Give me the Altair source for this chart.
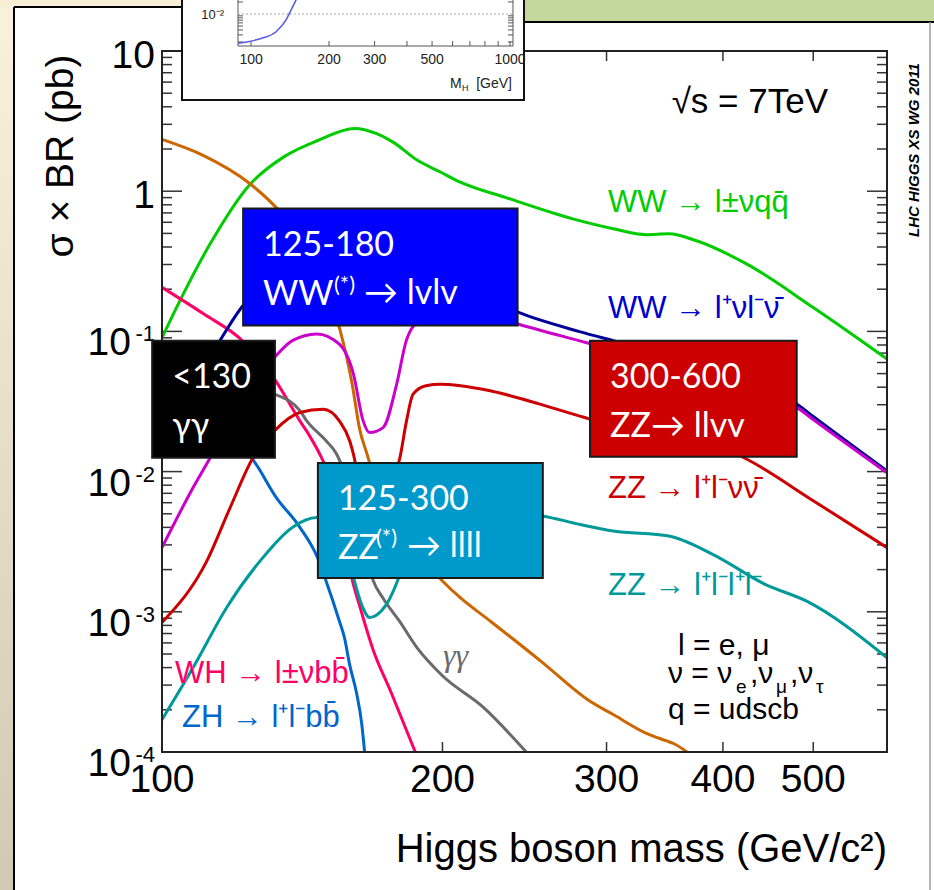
import altair as alt
import pandas as pd

# ---------------- data (Higgs mass in GeV, sigma x BR in pb) ----------------
green_m = [100, 104.5, 112.6, 124, 135, 147, 161, 170, 177, 188, 199, 209, 234, 276, 305, 331, 350, 374, 424, 500, 600]
green_v = [0.09, 0.165, 0.42, 1.1, 1.75, 2.3, 2.8, 2.57, 2.24, 1.66, 1.37, 1.16, 0.9, 0.635, 0.54, 0.49, 0.497, 0.445, 0.303, 0.148, 0.0635]

orange_m = [100, 110.7, 124.3, 133, 140, 145, 150, 155, 160, 163, 166, 170, 175, 180, 190, 200, 209, 225, 255, 288, 305, 331, 348, 354, 366]
orange_v = [2.34, 1.8, 1.13, 0.75, 0.5, 0.33, 0.2, 0.107, 0.042, 0.02, 0.0133, 0.008, 0.0052, 0.0038, 0.0024, 0.00166, 0.00126, 8.6e-4, 4.45e-4, 2.3e-4, 1.85e-4, 1.36e-4, 1.2e-4, 1.15e-4, 1e-4]

wh_m = [100, 110.7, 122, 131.7, 140.6, 144, 147.7, 152, 156, 160, 163, 168.6, 176, 187]
wh_v = [0.206, 0.134, 0.0858, 0.047, 0.023, 0.018, 0.0133, 0.0085, 0.0045, 0.0017, 0.0011, 5.3e-4, 2.7e-4, 1e-4]

zh_m = [100, 110, 120, 125, 132.7, 140.6, 147, 150, 155, 157, 159, 161.8, 163.8, 165]
zh_v = [0.035, 0.025, 0.016, 0.0123, 0.0065, 0.004, 0.0024, 0.00166, 8.6e-4, 6.5e-4, 4.2e-4, 2.6e-4, 1.6e-4, 1e-4]

gg_m = [100, 110, 120, 127, 132, 140.6, 143, 150, 154, 160, 165, 168.6, 172.7, 180, 187.6, 200, 221, 246]
gg_v = [0.028, 0.035, 0.039, 0.038, 0.0357, 0.0272, 0.023, 0.0166, 0.0133, 0.0065, 0.0028, 0.00166, 0.00125, 8.5e-4, 5.6e-4, 3.5e-4, 2.1e-4, 1e-4]

llvv_m = [100, 111.7, 118.3, 125, 132, 140.6, 149, 155, 159, 160.5, 163, 166, 170, 173, 176, 178, 180, 183, 186, 192, 199, 209, 225, 254.5, 283, 300, 330, 360, 400, 424, 500, 600]
llvv_v = [8.4e-4, 2.3e-3, 5.5e-3, 0.0123, 0.0195, 0.0264, 0.0279, 0.023, 0.0166, 0.0133, 0.008, 0.0055, 0.0042, 0.0045, 0.007, 0.0095, 0.0125, 0.023, 0.0357, 0.041, 0.042, 0.041, 0.0377, 0.0303, 0.0245, 0.022, 0.02, 0.0185, 0.0148, 0.0123, 6.2e-3, 2.87e-3]

mag_m = [100, 108, 112.6, 120, 126, 132, 138, 146.6, 155, 160.5, 164.4, 167, 172.7, 178.6, 183, 190, 200, 210, 225, 241, 285, 300, 350, 400, 450, 480, 500, 600]
mag_v = [2.87e-3, 7.7e-3, 0.0125, 0.028, 0.045, 0.065, 0.086, 0.096, 0.081, 0.0496, 0.023, 0.019, 0.0206, 0.042, 0.087, 0.125, 0.145, 0.145, 0.13, 0.113, 0.0834, 0.076, 0.058, 0.045, 0.034, 0.0287, 0.0235, 9.8e-3]

lvlv_m = [100, 105, 110, 115.4, 121.7, 130, 140, 150, 160, 170, 180, 200, 220, 241, 280, 305, 350, 400, 450, 480, 500, 600]
lvlv_v = [0.02, 0.032, 0.05, 0.086, 0.148, 0.23, 0.33, 0.42, 0.47, 0.44, 0.36, 0.25, 0.18, 0.137, 0.1, 0.086, 0.068, 0.05, 0.037, 0.0303, 0.0247, 0.0101]

llll_m = [100, 108, 117.3, 127.4, 138, 146.6, 150, 155, 160.5, 164, 167, 170, 174, 179.5, 185, 190, 200, 220, 240, 256, 281, 305, 350, 390, 444, 492, 600]
llll_v = [1.7e-4, 4e-4, 1.07e-3, 2.3e-3, 4e-3, 4.7e-3, 4.7e-3, 3.8e-3, 1.75e-3, 1.1e-3, 9.1e-4, 9.5e-4, 1.12e-3, 1.75e-3, 3.3e-3, 4.8e-3, 5.6e-3, 5.5e-3, 5.1e-3, 4.83e-3, 4.2e-3, 3.77e-3, 3.47e-3, 2.57e-3, 1.57e-3, 1.19e-3, 4.7e-4]

# highlighted analysis boxes (mass range, sigma range)
box_name = ["gg", "ww", "zz4l", "zz2l2v"]
box_m_lo = [97.6, 122.2, 147.0, 288.0]
box_m_hi = [132.2, 240.8, 256.3, 480.0]
box_v_lo = [0.01253, 0.110, 0.00174, 0.01274]
box_v_hi = [0.0858, 0.752, 0.01154, 0.0858]
box_line1 = ["<130", "125-180", "125-300", "300-600"]
box_line2 = ["γγ", "WW", "ZZ", "ZZ→ llvv"]

# inset curve
inset_m = [89, 97.4, 110, 124.9, 136.5, 142.7, 149.2, 156, 165]
inset_v = [1.85e-3, 2.03e-3, 2.47e-3, 3.6e-3, 7.1e-3, 0.0126, 0.0224, 0.04, 0.08]
inset_xlabels = [100, 200, 300, 500, 1000]

x_labels = [100, 200, 300, 400, 500]
y_plain = [10, 1]
y_plain_txt = ["10", "1"]
y_pow = [0.1, 0.01, 0.001, 0.0001]
y_pow_exp = ["-1", "-2", "-3", "-4"]

# ---------------- layout ----------------
X0, Y0 = 162, 51
W, H = 725, 701
SANS = "Liberation Sans, Arial, Helvetica, sans-serif"
BOXF = "Lato, 'Open Sans', 'DejaVu Sans', sans-serif"

series = [
    ("WW→lνqq", green_m, green_v, "#00cc00"),
    ("bkg", orange_m, orange_v, "#cc6600"),
    ("WH", wh_m, wh_v, "#ff0066"),
    ("ZH", zh_m, zh_v, "#0066cc"),
    ("γγ", gg_m, gg_v, "#6a6a6a"),
    ("ZZ→llνν", llvv_m, llvv_v, "#cc0000"),
    ("WW→lνlν", lvlv_m, lvlv_v, "#000099"),
    ("magenta", mag_m, mag_v, "#cc00cc"),
    ("ZZ→4l", llll_m, llll_v, "#009999"),
]
rows = []
for name, ms, vs, _ in series:
    for m, v in zip(ms, vs):
        rows.append({"series": name, "mass": m, "xsbr": v})
df = pd.DataFrame(rows)

xs = alt.Scale(type="log", domain=[100, 600], nice=False)
ys = alt.Scale(type="log", domain=[1e-4, 10], nice=False)

one = alt.Data(values=[{"k": 1}])


def txt(s, x, y, size, color="black", font=SANS, align="left", baseline="alphabetic",
        angle=None, style=None, weight=None):
    kw = dict(text=s, fontSize=size, font=font, color=color, align=align, baseline=baseline)
    if angle is not None:
        kw["angle"] = angle
    if style:
        kw["fontStyle"] = style
    if weight:
        kw["fontWeight"] = weight
    return alt.Chart(one).mark_text(**kw).encode(x=alt.value(x - X0), y=alt.value(y - Y0))


def rect(x1, y1, x2, y2, fill, stroke=None, sw=0):
    kw = dict(fill=fill)
    if stroke:
        kw["stroke"] = stroke
        kw["strokeWidth"] = sw
    return alt.Chart(one).mark_rect(**kw).encode(
        x=alt.value(x1 - X0), x2=alt.value(x2 - X0), y=alt.value(y1 - Y0), y2=alt.value(y2 - Y0))


def rule(x1, y1, x2, y2, color="black", sw=2, dash=None):
    kw = dict(color=color, strokeWidth=sw)
    if dash:
        kw["strokeDash"] = dash
    return alt.Chart(one).mark_rule(**kw).encode(
        x=alt.value(x1 - X0), x2=alt.value(x2 - X0), y=alt.value(y1 - Y0), y2=alt.value(y2 - Y0))


layers = []
# slide decorations
beige = alt.LinearGradient(gradient="linear",
                           stops=[alt.GradientStop(color="#f8f2dc", offset=0),
                                  alt.GradientStop(color="#d2c9b3", offset=1)],
                           x1=0, x2=0, y1=0, y2=1)
layers.append(rect(0, 0, 14, 890, beige))
layers.append(rect(0, 0, 200, 7, "#f6efd6"))
layers.append(rect(500, 0, 934, 22, "#c4d79c"))
layers.append(rule(14, 7, 14, 890, "black", 2))
layers.append(rule(14, 7, 200, 7, "black", 2))
layers.append(rule(500, 22, 934, 22, "black", 2))
layers.append(rule(930, 22, 930, 890, "#9a9a9a", 1.5))

# ticks (inside, ROOT style)
y_major = [1e-4, 1e-3, 1e-2, 1e-1, 1, 10]
y_minor = [k * d for d in [1e-4, 1e-3, 1e-2, 1e-1, 1] for k in range(2, 10)]
tdf_maj = pd.DataFrame({"v": y_major})
tdf_min = pd.DataFrame({"v": y_minor})
for dfx, ln in [(tdf_maj, 20), (tdf_min, 10)]:
    layers.append(alt.Chart(dfx).mark_rule(color="#333", strokeWidth=1.5).encode(
        y=alt.Y("v:Q", scale=ys, axis=None), x=alt.value(0), x2=alt.value(ln)))
    layers.append(alt.Chart(dfx).mark_rule(color="#333", strokeWidth=1.5).encode(
        y=alt.Y("v:Q", scale=ys, axis=None), x=alt.value(W - ln), x2=alt.value(W)))
xt = pd.DataFrame({"m": [200, 300, 400, 500]})
layers.append(alt.Chart(xt).mark_rule(color="#333", strokeWidth=1.5).encode(
    x=alt.X("m:Q", scale=xs, axis=None), y=alt.value(H - 10), y2=alt.value(H)))
layers.append(alt.Chart(xt).mark_rule(color="#333", strokeWidth=1.5).encode(
    x=alt.X("m:Q", scale=xs, axis=None), y=alt.value(0), y2=alt.value(10)))

# curves
curves = alt.Chart(df).mark_line(strokeWidth=3, interpolate="monotone").encode(
    x=alt.X("mass:Q", scale=xs, axis=None),
    y=alt.Y("xsbr:Q", scale=ys, axis=None),
    color=alt.Color("series:N", scale=alt.Scale(domain=[s[0] for s in series],
                                                 range=[s[3] for s in series]), legend=None),
    order=alt.Order("mass:Q"),
)
layers.append(curves)

# frame
layers.append(alt.Chart(one).mark_rect(fillOpacity=0, stroke="#222", strokeWidth=2).encode(
    x=alt.value(0), x2=alt.value(W), y=alt.value(0), y2=alt.value(H)))

# x tick labels
layers.append(alt.Chart(pd.DataFrame({"m": x_labels, "t": [str(v) for v in x_labels]})).mark_text(
    align="center", baseline="alphabetic", fontSize=39, font=SANS, color="black").encode(
    x=alt.X("m:Q", scale=xs, axis=None), y=alt.value(H + 40), text="t:N"))

# y tick labels
layers.append(alt.Chart(pd.DataFrame({"v": y_plain, "t": y_plain_txt})).mark_text(
    align="right", baseline="alphabetic", dy=17, fontSize=39, font=SANS, color="black").encode(
    x=alt.value(-7), y=alt.Y("v:Q", scale=ys, axis=None), text="t:N"))
layers.append(alt.Chart(pd.DataFrame({"v": y_pow, "t": ["10"] * 4})).mark_text(
    align="right", baseline="alphabetic", dy=24, fontSize=39, font=SANS, color="black").encode(
    x=alt.value(-31), y=alt.Y("v:Q", scale=ys, axis=None), text="t:N"))
layers.append(alt.Chart(pd.DataFrame({"v": y_pow, "t": y_pow_exp})).mark_text(
    align="right", baseline="alphabetic", dy=10, fontSize=22, font=SANS, color="black").encode(
    x=alt.value(-7), y=alt.Y("v:Q", scale=ys, axis=None), text="t:N"))

# axis titles and annotations
layers.append(txt("σ × BR (pb)", 61, 156, 39, align="center", baseline="middle", angle=270))
layers.append(txt("Higgs boson mass (GeV/c²)", 887, 862, 40, align="right"))
layers.append(txt("√s = 7TeV", 828, 113, 35, align="right"))
layers.append(txt("LHC HIGGS XS WG 2011", 914, 150, 15, align="center", baseline="middle",
                  angle=270, style="italic", weight="bold"))

layers.append(txt("WW → l±νqq̄", 608, 212, 31, "#00cc00"))
layers.append(txt("WW → l⁺νl⁻ν̄", 608, 318, 31, "#0000cc"))
layers.append(txt("ZZ → l⁺l⁻νν̄", 608, 498, 31, "#cc0000"))
layers.append(txt("ZZ → l⁺l⁻l⁺l⁻", 608, 595, 31, "#009999"))
layers.append(txt("WH → l±νbb̄", 175, 683, 31, "#ff0066"))
layers.append(txt("ZH → l⁺l⁻bb̄", 182, 727, 31, "#0066cc"))
layers.append(txt("γγ", 443, 666, 32, "#6a6a6a", font="Liberation Serif, serif", style="italic"))

layers.append(txt("l = e, μ", 678, 655, 30))
layers.append(txt("ν = ν", 668, 683, 30))
layers.append(txt("e", 736, 693, 19))
layers.append(txt(",ν", 750, 683, 30))
layers.append(txt("μ", 776, 693, 19))
layers.append(txt(",ν", 790, 683, 30))
layers.append(txt("τ", 816, 693, 19))
layers.append(txt("q = udscb", 668, 719, 30))

# highlighted boxes
bdf = pd.DataFrame({"name": box_name, "m1": box_m_lo, "m2": box_m_hi, "v1": box_v_lo,
                    "v2": box_v_hi, "l1": box_line1, "l2": box_line2})
layers.append(alt.Chart(bdf).mark_rect(stroke="#1a1a1a", strokeWidth=2).encode(
    x=alt.X("m1:Q", scale=xs, axis=None), x2="m2:Q",
    y=alt.Y("v2:Q", scale=ys, axis=None), y2="v1:Q",
    fill=alt.Fill("name:N", scale=alt.Scale(domain=box_name,
                                            range=["#000000", "#0000ff", "#0099cc", "#cc0000"]),
                  legend=None)))
for col, dyv in [("l1", 47), ("l2", 96)]:
    layers.append(alt.Chart(bdf).mark_text(align="left", baseline="alphabetic", dx=20, dy=dyv,
                                           fontSize=34, font=BOXF, color="white").encode(
        x=alt.X("m1:Q", scale=xs, axis=None), y=alt.Y("v2:Q", scale=ys, axis=None),
        text=f"{col}:N"))
layers.append(txt("(*)", 334, 292, 22, "white", font=BOXF))
layers.append(txt("→ lvlv", 364, 304, 34, "white", font=BOXF))
layers.append(txt("(*)", 376, 545, 22, "white", font=BOXF))
layers.append(txt("→ llll", 407, 557, 34, "white", font=BOXF))

main = alt.layer(*layers)

# ---------------- inset ----------------
ix = alt.Scale(type="log", domain=[45.3, 28551], nice=False)
iy = alt.Scale(type="log", domain=[10 ** -20.45, 10 ** -2.925], nice=False)
ins = []
ins.append(rect(182, -60, 524, 100, "white", "#111", 2))
ins.append(alt.Chart(one).mark_rect(fillOpacity=0, stroke="#555", strokeWidth=1).encode(
    x=alt.value(238 - X0), x2=alt.value(513 - X0), y=alt.value(-60 - Y0), y2=alt.value(46 - Y0)))
ins.append(alt.Chart(pd.DataFrame({"v": [0.01]})).mark_rule(color="#aaa", strokeWidth=1,
                                                             strokeDash=[2, 2]).encode(
    y=alt.Y("v:Q", scale=iy, axis=None), x=alt.value(238 - X0), x2=alt.value(513 - X0)))
iyt = pd.DataFrame({"v": [k * 1e-3 for k in range(2, 10)] + [0.02, 0.03]})
ins.append(alt.Chart(iyt).mark_rule(color="#555", strokeWidth=1).encode(
    y=alt.Y("v:Q", scale=iy, axis=None), x=alt.value(238 - X0), x2=alt.value(243 - X0)))
ins.append(alt.Chart(iyt).mark_rule(color="#555", strokeWidth=1).encode(
    y=alt.Y("v:Q", scale=iy, axis=None), x=alt.value(508 - X0), x2=alt.value(513 - X0)))
ixt = pd.DataFrame({"m": [100 * k for k in range(1, 11)]})
ins.append(alt.Chart(ixt).mark_rule(color="#555", strokeWidth=1).encode(
    x=alt.X("m:Q", scale=ix, axis=None), y=alt.value(41 - Y0), y2=alt.value(46 - Y0)))
ins.append(alt.Chart(pd.DataFrame({"m": inset_m, "v": inset_v})).mark_line(
    color="#5a5ae6", strokeWidth=1.6, interpolate="monotone").encode(
    x=alt.X("m:Q", scale=ix, axis=None), y=alt.Y("v:Q", scale=iy, axis=None),
    order=alt.Order("m:Q")))
ins.append(alt.Chart(pd.DataFrame({"m": inset_xlabels, "t": [str(v) for v in inset_xlabels]})).mark_text(
    fontSize=14, font=SANS, color="#222", align="center", baseline="alphabetic").encode(
    x=alt.X("m:Q", scale=ix, axis=None), y=alt.value(64 - Y0), text="t:N"))
ins.append(txt("10⁻²", 224, 19, 13, "#222", align="right"))
ins.append(txt("M", 450, 88, 14, "#222"))
ins.append(txt("H", 462, 91, 9, "#222"))
ins.append(txt("[GeV]", 512, 88, 14, "#222", align="right"))
inset = alt.layer(*ins)

chart = alt.layer(main, inset).resolve_scale(x="independent", y="independent").properties(
    width=W, height=H,
    autosize=alt.AutoSizeParams(type="none"),
    padding={"left": X0, "top": Y0, "right": 934 - X0 - W, "bottom": 890 - Y0 - H},
    background="white",
).configure_view(strokeWidth=0)

chart.save("out.html", embed_options={"renderer": "svg", "actions": False})
